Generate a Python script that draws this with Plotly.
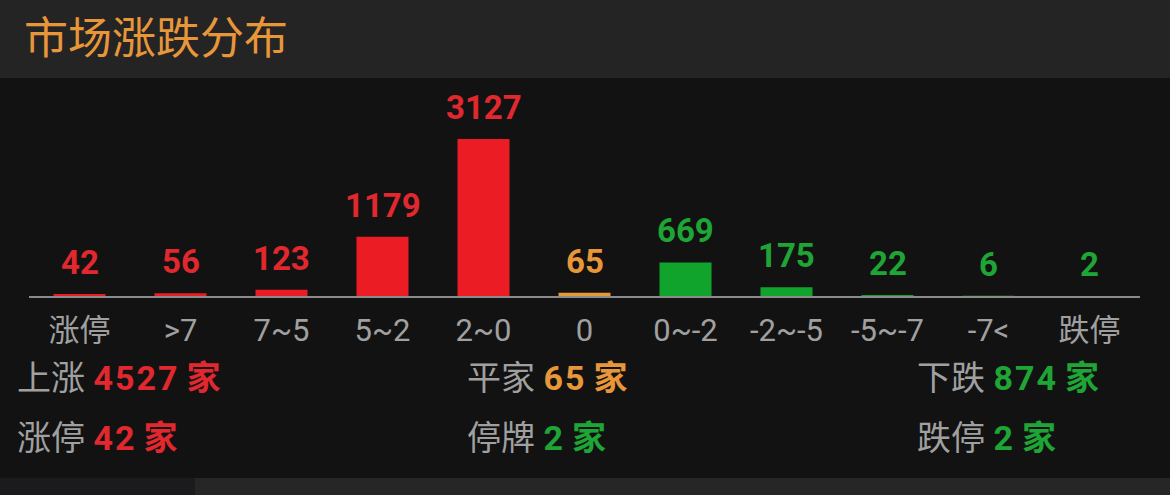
import plotly.graph_objects as go

categories = ["涨停", ">7", "7~5", "5~2", "2~0", "0", "0~-2", "-2~-5", "-5~-7", "-7<", "跌停"]
values = [42, 56, 123, 1179, 3127, 65, 669, 175, 22, 6, 2]
groups = ["up", "up", "up", "up", "up", "flat", "down", "down", "down", "down", "down"]

title_text = "市场涨跌分布"
summary_labels = [["上涨", "平家", "下跌"], ["涨停", "停牌", "跌停"]]
summary_values = [[4527, 65, 874], [42, 2, 2]]
summary_groups = [["up", "flat", "down"], ["up", "down", "down"]]
unit = "家"

W, H = 1170, 495
ML, MR, MT, MB = 29, 30, 78, 199
PW, PH = W - ML - MR, H - MT - MB

bar_color = {"up": "#ec1c24", "flat": "#e8963a", "down": "#10a42d"}
text_color = {"up": "#e0282e", "flat": "#e8963a", "down": "#1ea535"}

FONT = "Roboto, 'Noto Sans CJK SC', sans-serif"
CJK = "'Noto Sans CJK SC', sans-serif"


def px_x(x):
    return (x - ML) / PW


def px_y(y):
    return (H - MB - y) / PH


fig = go.Figure()
fig.add_trace(go.Bar(
    x=list(range(len(categories))), y=values,
    marker=dict(color=[bar_color[g] for g in groups], line=dict(width=0)),
    hoverinfo="skip",
))

annotations = []
for i, (v, g) in enumerate(zip(values, groups)):
    annotations.append(dict(
        x=i, y=v, xref="x", yref="y", text=f"<b>{v}</b>", showarrow=False,
        yanchor="bottom", yshift=10,
        font=dict(family=FONT, size=33, color=text_color[g]),
    ))

annotations.append(dict(
    x=px_x(22), y=px_y(35), xref="paper", yref="paper", text=title_text,
    showarrow=False, xanchor="left", yanchor="middle",
    font=dict(family=CJK, size=44, color="#e8963a"),
))

col_x = [15, 465, 915]
row_y = [378, 438]
for r in range(2):
    for c in range(3):
        g = summary_groups[r][c]
        txt = (f"{summary_labels[r][c]} <span style='color:{text_color[g]};letter-spacing:2px'>"
               f"<b>{summary_values[r][c]}</b></span>"
               f"<span style='color:{text_color[g]}'><b>\u2009{unit}</b></span>")
        annotations.append(dict(
            x=px_x(col_x[c]), y=px_y(row_y[r]), xref="paper", yref="paper",
            text=txt, showarrow=False, xanchor="left", yanchor="middle",
            font=dict(family=FONT, size=34, color="#a0a0a0"),
        ))

shapes = [
    dict(type="rect", xref="paper", yref="paper", x0=px_x(0), x1=px_x(W),
         y0=px_y(78), y1=px_y(0), fillcolor="#242424", line=dict(width=0), layer="below"),
    dict(type="rect", xref="paper", yref="paper", x0=px_x(0), x1=px_x(W),
         y0=px_y(495), y1=px_y(478), fillcolor="#262626", line=dict(width=0), layer="below"),
    dict(type="rect", xref="paper", yref="paper", x0=px_x(0), x1=px_x(195),
         y0=px_y(495), y1=px_y(478), fillcolor="#1b1b1d", line=dict(width=0), layer="below"),
]

fig.update_layout(
    width=W, height=H,
    margin=dict(l=ML, r=MR, t=MT, b=MB, pad=0),
    paper_bgcolor="#121212", plot_bgcolor="#121212",
    bargap=0.485, showlegend=False,
    annotations=annotations, shapes=shapes,
    xaxis=dict(
        type="linear", range=[-0.5, len(categories) - 0.5],
        tickmode="array", tickvals=list(range(len(categories))), ticktext=categories,
        showline=True, linecolor="#8a8a8a", linewidth=2,
        showgrid=False, zeroline=False, ticks="",
        tickfont=dict(family=FONT, size=31, color="#a0a0a0"),
        ticklabelstandoff=6, fixedrange=True,
    ),
    yaxis=dict(
        range=[0, 3127 * PH / 157], visible=False, showgrid=False,
        zeroline=False, fixedrange=True,
    ),
)

fig.write_html(
    "out.html",
    config={"displayModeBar": False, "staticPlot": True},
    post_script="document.body.style.margin='0';document.body.style.background='#121212';",
)
